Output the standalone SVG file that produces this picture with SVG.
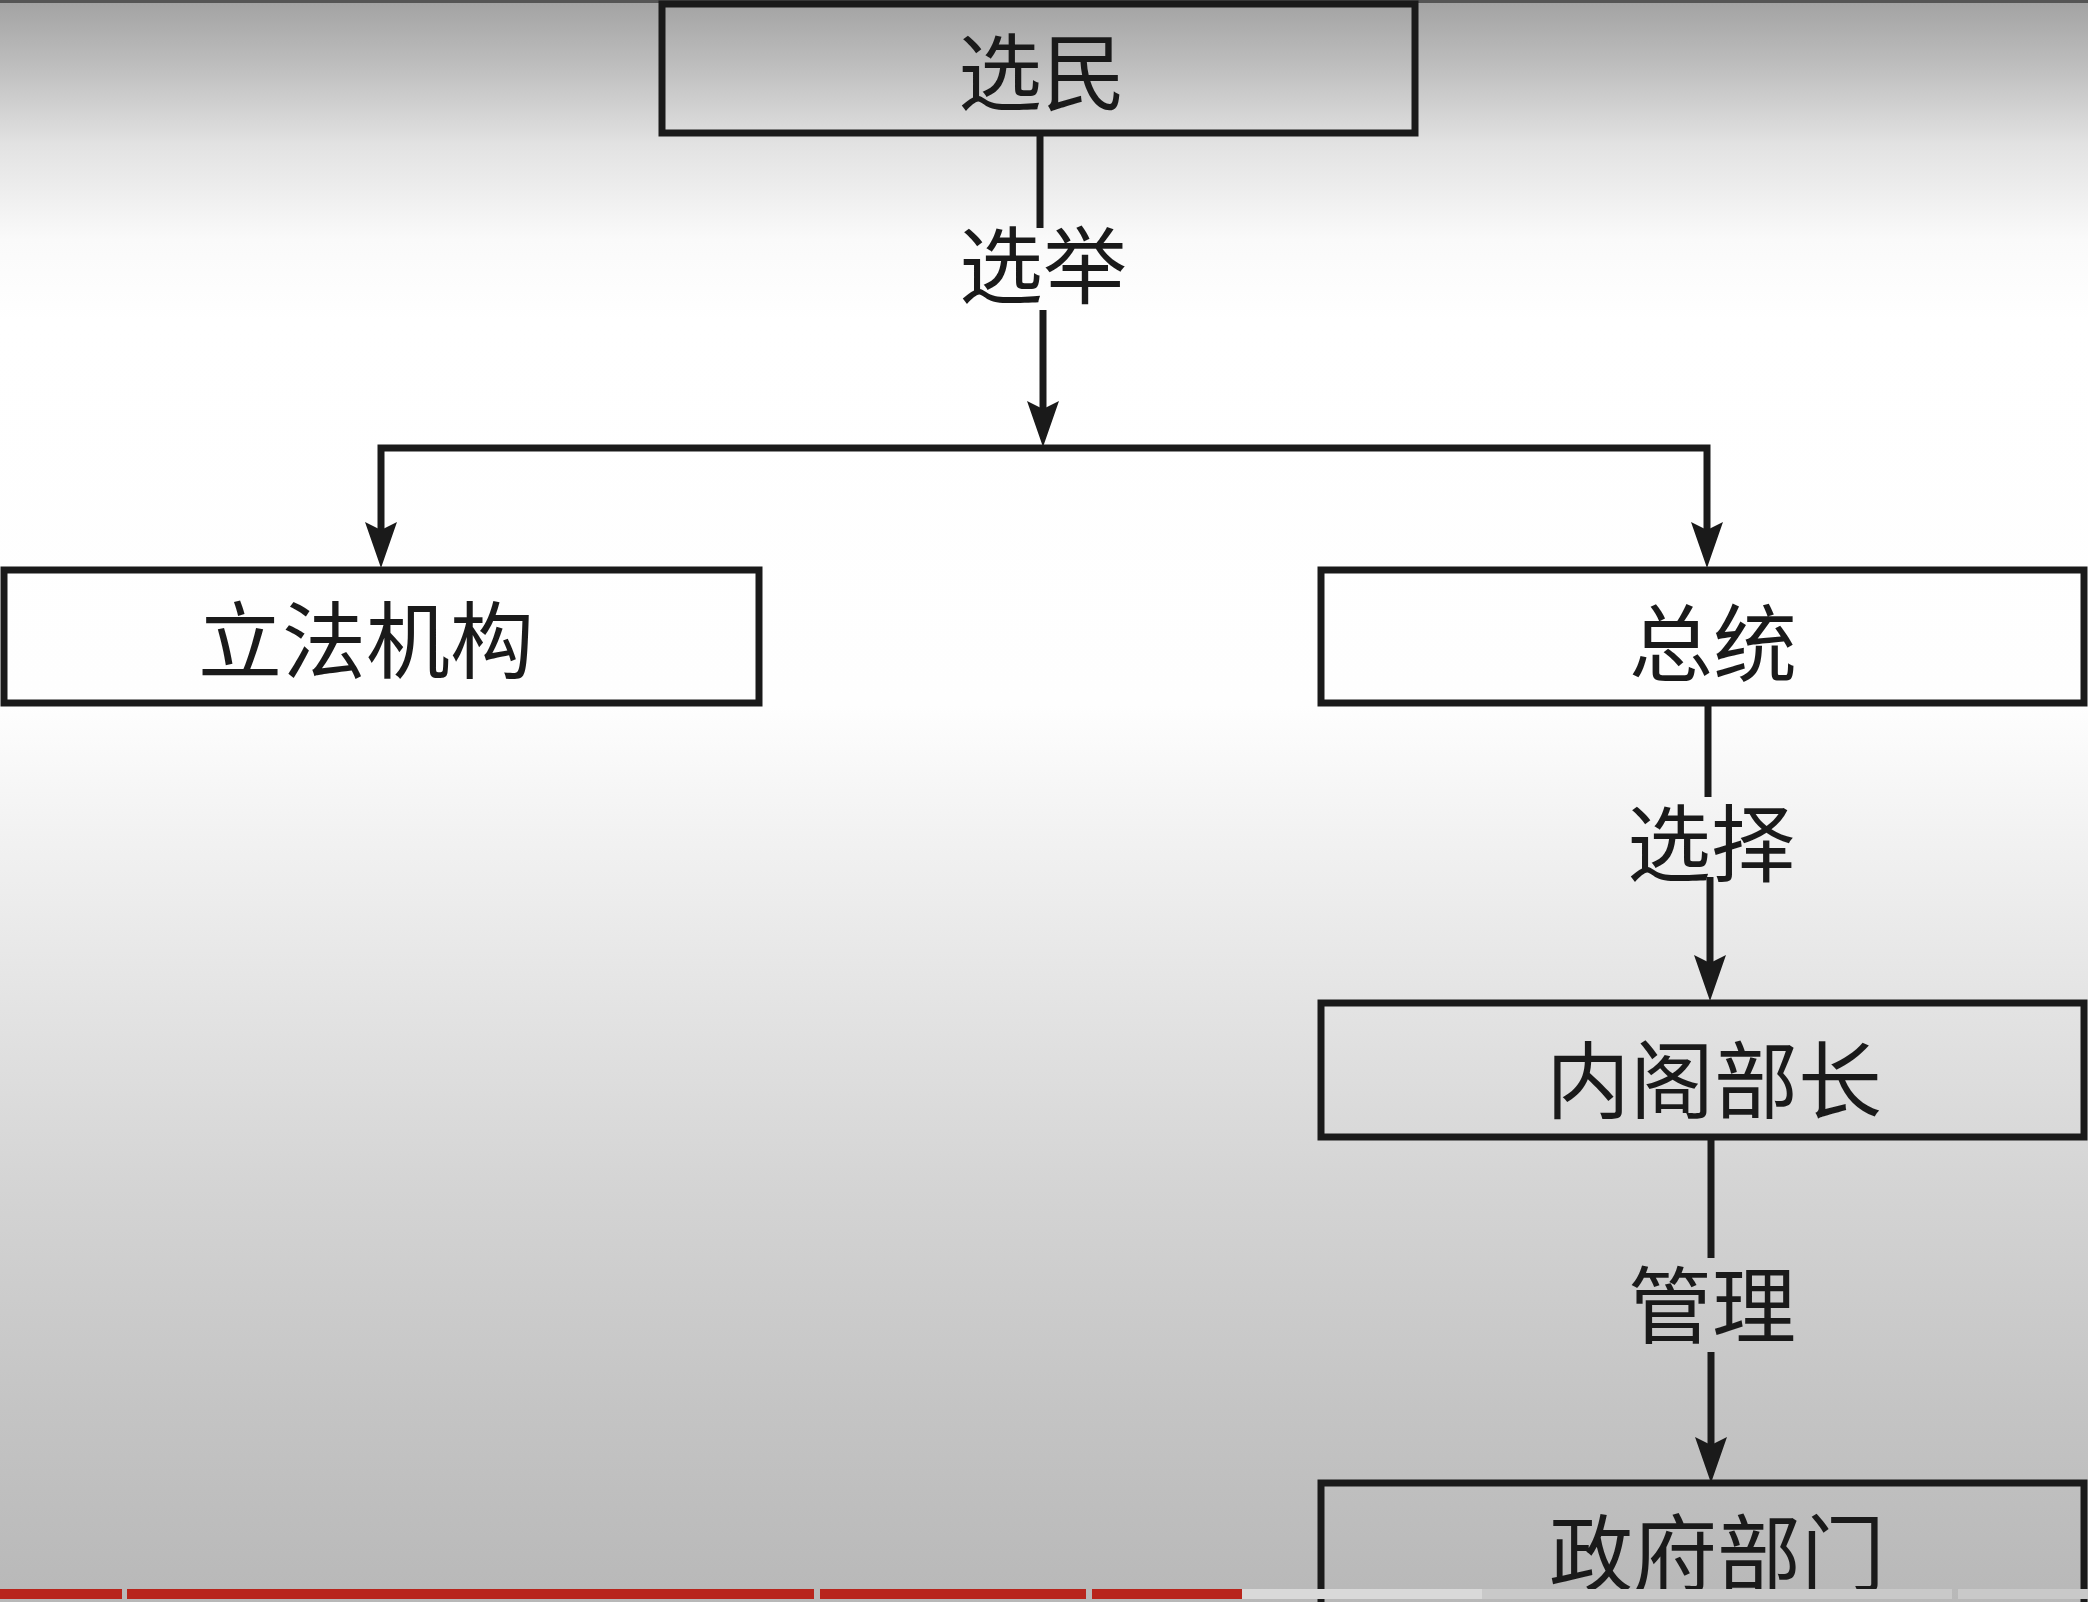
<svg xmlns="http://www.w3.org/2000/svg" width="2088" height="1602" viewBox="0 0 2088 1602">
  <defs>
    <linearGradient id="bg" x1="0" y1="0" x2="0" y2="1">
      <stop offset="0" stop-color="#a2a2a2"/>
      <stop offset="0.04" stop-color="#bdbdbd"/>
      <stop offset="0.09" stop-color="#e2e2e2"/>
      <stop offset="0.15" stop-color="#fafafa"/>
      <stop offset="0.2" stop-color="#ffffff"/>
      <stop offset="0.44" stop-color="#fefefe"/>
      <stop offset="0.52" stop-color="#f2f2f2"/>
      <stop offset="0.63" stop-color="#e3e3e3"/>
      <stop offset="0.75" stop-color="#d3d3d3"/>
      <stop offset="0.88" stop-color="#c4c4c4"/>
      <stop offset="1" stop-color="#b8b8b8"/>
    </linearGradient>
    <marker id="arrow" markerUnits="userSpaceOnUse" markerWidth="50" markerHeight="36" refX="16" refY="16" orient="auto" overflow="visible">
      <path d="M0,0 L46,16 L0,32 L8,16 Z" fill="#1a1a1a"/>
    </marker>
    <style>
      .box { fill: none; stroke: #1a1a1a; stroke-width: 7; }
      .lbl { font-family: "Noto Sans CJK SC", "Noto Sans CJK JP", sans-serif; font-size: 84px; font-weight: 400; fill: #1a1a1a; text-anchor: middle; }
      .ln { fill: none; stroke: #1a1a1a; stroke-width: 7; stroke-linejoin: miter; }
    </style>
  </defs>

  <rect x="0" y="0" width="2088" height="1602" fill="url(#bg)"/>
  <rect x="0" y="0" width="2088" height="3" fill="#555555"/>

  <g id="connectors">
    <line class="ln" x1="1040" y1="133" x2="1040" y2="228"/>
    <line class="ln" x1="1043" y1="310" x2="1043" y2="417" marker-end="url(#arrow)"/>
    <path class="ln" d="M1043,448 H381 V538" marker-end="url(#arrow)"/>
    <path class="ln" d="M1043,448 H1707 V538" marker-end="url(#arrow)"/>
    <line class="ln" x1="1708" y1="703" x2="1708" y2="797"/>
    <line class="ln" x1="1710" y1="877" x2="1710" y2="971" marker-end="url(#arrow)"/>
    <line class="ln" x1="1711" y1="1137" x2="1711" y2="1258"/>
    <line class="ln" x1="1711" y1="1352" x2="1711" y2="1453" marker-end="url(#arrow)"/>
    <text class="lbl" x="1043" y="297">选举</text>
    <text class="lbl" x="1711" y="875">选择</text>
    <text class="lbl" x="1712" y="1337">管理</text>
  </g>

  <g id="node-voters">
    <rect class="box" x="662" y="4" width="753" height="129"/>
    <text class="lbl" x="1042" y="104">选民</text>
  </g>
  <g id="node-legislature">
    <rect class="box" x="4" y="570" width="755" height="133"/>
    <text class="lbl" x="366" y="672">立法机构</text>
  </g>
  <g id="node-president">
    <rect class="box" x="1321" y="570" width="763" height="133"/>
    <text class="lbl" x="1713" y="675">总统</text>
  </g>
  <g id="node-cabinet">
    <rect class="box" x="1321" y="1003" width="763" height="134"/>
    <text class="lbl" x="1714" y="1112">内阁部长</text>
  </g>
  <g id="node-departments">
    <rect class="box" x="1321" y="1483" width="763" height="200"/>
    <text class="lbl" x="1717" y="1585">政府部门</text>
  </g>

  <g id="progress-bar">
    <rect x="0" y="1589" width="122" height="10" fill="#b8251c"/>
    <rect x="127" y="1589" width="687" height="10" fill="#b8251c"/>
    <rect x="820" y="1589" width="266" height="10" fill="#b8251c"/>
    <rect x="1092" y="1589" width="150" height="10" fill="#b8251c"/>
    <rect x="1242" y="1589" width="240" height="10" fill="#d9d9d9"/>
    <rect x="1482" y="1589" width="470" height="10" fill="#c9c9c9"/>
    <rect x="1958" y="1589" width="130" height="10" fill="#c9c9c9"/>
  </g>
</svg>
